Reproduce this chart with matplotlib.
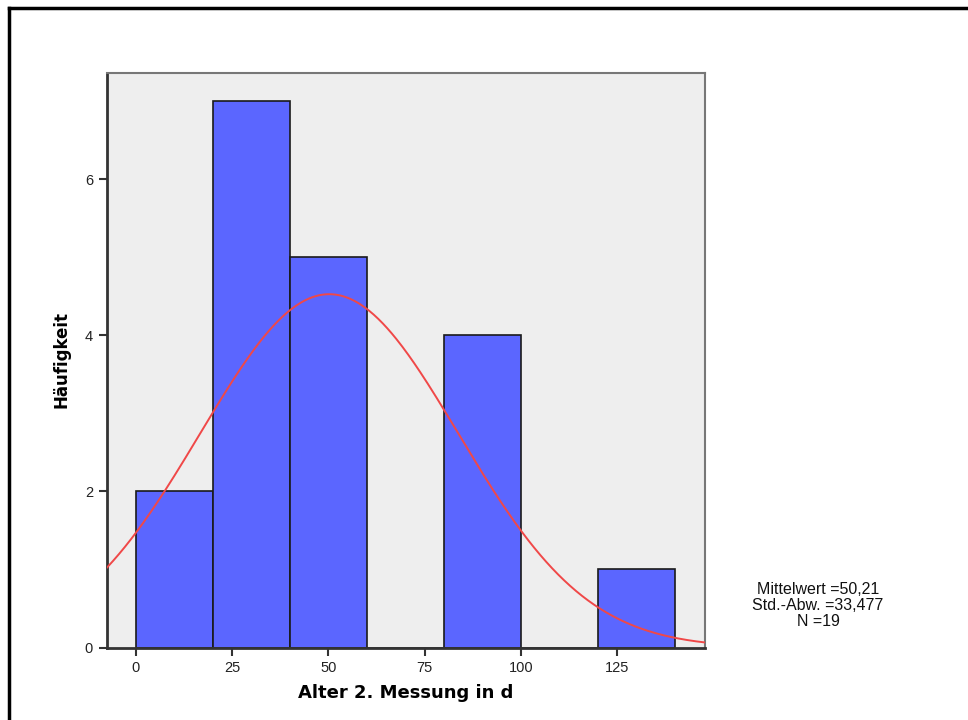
import numpy as np
import matplotlib
matplotlib.use("Agg")
import matplotlib.pyplot as plt
from matplotlib.lines import Line2D

# Histogram of age at the second measurement (days), 20-day bins
bin_edges = [0, 20, 40, 60, 80, 100, 120, 140]
counts = [2, 7, 5, 0, 4, 0, 1]
x_ticks = [0, 25, 50, 75, 100, 125]
y_ticks = [0, 2, 4, 6]

mean_val = 50.21
sd_val = 33.477
n_val = 19
bin_width = 20

fig = plt.figure(figsize=(9.68, 7.2), dpi=100)
ax = fig.add_axes([107 / 968, 1 - 647.5 / 720, (705 - 107) / 968, (647.5 - 72.5) / 720])
ax.set_facecolor("#EEEEEE")

lefts = bin_edges[:-1]
widths = np.diff(bin_edges)
ax.bar(lefts, counts, width=widths, align="edge", color="#5B66FF",
       edgecolor="#1a1a1a", linewidth=1.2, zorder=2)

# Fitted normal curve scaled to counts
xlim = (-7.5, 147.8)
xs = np.linspace(xlim[0], xlim[1], 400)
ys = n_val * bin_width / (sd_val * np.sqrt(2 * np.pi)) * np.exp(-0.5 * ((xs - mean_val) / sd_val) ** 2)
ax.plot(xs, ys, color="#F04848", linewidth=1.4, zorder=3)

ax.set_xlim(*xlim)
ax.set_ylim(0, 7.37)
ax.set_xticks(x_ticks)
ax.set_yticks(y_ticks)
ax.tick_params(axis="both", direction="out", length=6, width=1.5, color="#333333",
               labelsize=10.5, labelcolor="#222222", pad=4)
for lbl in ax.get_xticklabels() + ax.get_yticklabels():
    lbl.set_fontfamily("Liberation Sans")

for side in ("left", "bottom"):
    ax.spines[side].set_color("#333333")
    ax.spines[side].set_linewidth(2)
for side in ("top", "right"):
    ax.spines[side].set_color("#777777")
    ax.spines[side].set_linewidth(1.5)

ax.set_xlabel("Alter 2. Messung in d", fontsize=13, fontweight="bold",
              fontfamily="DejaVu Sans", labelpad=6)
ax.set_ylabel("Häufigkeit", fontsize=12, fontweight="bold",
              fontfamily="DejaVu Sans", labelpad=10)

stats_lines = ["Mittelwert =50,21", "Std.-Abw. =33,477", "N =19"]
stats_y = [589, 605.5, 621]
for line, yp in zip(stats_lines, stats_y):
    fig.text(818 / 968, 1 - yp / 720, line, ha="center", va="center",
             fontsize=11.5, fontfamily="Liberation Sans", color="#111111")

# Outer frame (top and left edges)
fig.add_artist(Line2D([8.5 / 968, 1], [1 - 7.5 / 720, 1 - 7.5 / 720],
                      transform=fig.transFigure, color="black", linewidth=2.5))
fig.add_artist(Line2D([8.5 / 968, 8.5 / 968], [0, 1 - 7.5 / 720],
                      transform=fig.transFigure, color="black", linewidth=2.5))

fig.savefig("out.png", dpi=100, facecolor="white")
